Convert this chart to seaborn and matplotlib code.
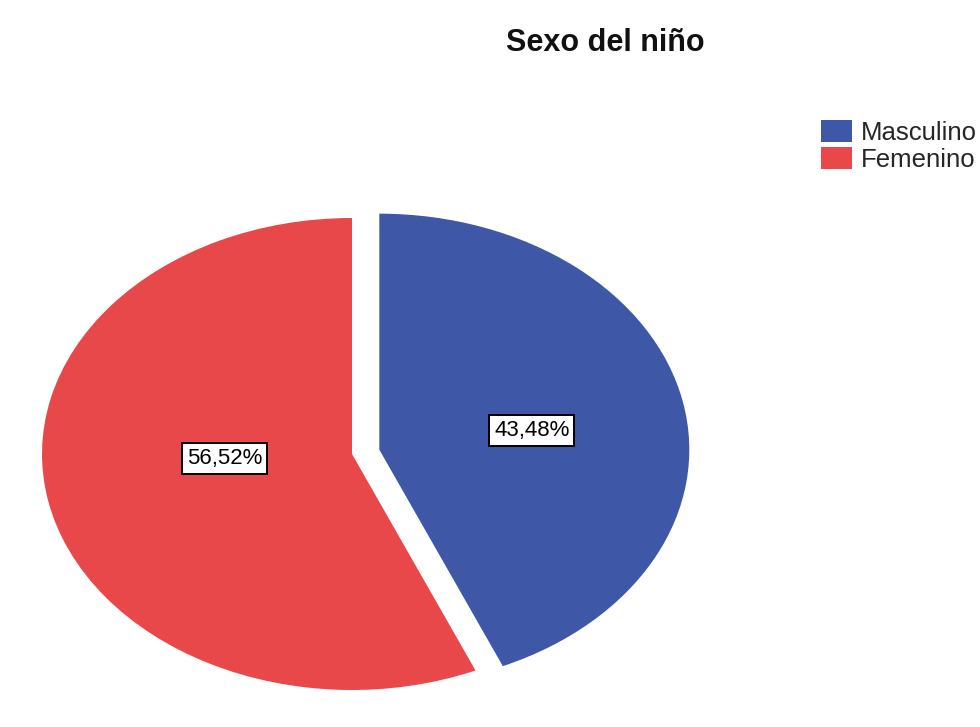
import matplotlib
matplotlib.use("Agg")
import matplotlib.pyplot as plt
import seaborn as sns

# Frequencies of the child's sex (n = 23)
categories = ["Masculino", "Femenino"]
counts = [10, 13]
colors_hex = ["#3E58A7", "#E9484B"]
explode = [0.09, 0.0]
title = "Sexo del niño"

sns.set_theme(style="white")
plt.rcParams["font.family"] = ["Liberation Sans", "DejaVu Sans"]
palette = sns.color_palette(colors_hex)

W, H = 980, 727
fig = plt.figure(figsize=(W / 100, H / 100), dpi=100)
fig.patch.set_facecolor("white")
ax = fig.add_axes([0, 0, 1, 1])


def pct_label(p):
    return f"{p:.2f}%".replace(".", ",")


wedges, _, autotexts = ax.pie(
    counts,
    colors=palette,
    explode=explode,
    startangle=90,
    counterclock=False,
    autopct=pct_label,
    pctdistance=0.46,
    wedgeprops=dict(linewidth=0),
    textprops=dict(fontsize=16, color="black"),
)

# Percentage boxes sit a little off the wedge bisectors
label_pos = [(0.58, 0.10), (-0.41, -0.02)]
for t, pos in zip(autotexts, label_pos):
    t.set_position(pos)
    t.set_bbox(dict(boxstyle="square,pad=0.22", facecolor="white",
                    edgecolor="black", linewidth=1.4))

# Stretched (elliptical) pie: radius 310 px wide, 236 px tall, centred at (352, 454)
rx, ry, cx, cy = 310.0, 236.0, 352.0, 454.0
ax.set_aspect("auto")
xmin = -cx / rx
ax.set_xlim(xmin, xmin + W / rx)
ymin = -(H - cy) / ry
ax.set_ylim(ymin, ymin + H / ry)
ax.set_axis_off()

fig.text(605 / W, 1 - 43 / H, title, ha="center", va="center",
         fontsize=22, fontweight="bold", color="#111111")

fig.legend(wedges, categories, loc="upper left",
           bbox_to_anchor=(821 / W, 1 - 120 / H),
           frameon=False, fontsize=18.5, handlelength=1.2, handleheight=0.95,
           handletextpad=0.35, labelspacing=0.08, borderaxespad=0.0,
           borderpad=0.0)

fig.savefig("out.png", dpi=100, facecolor="white")
